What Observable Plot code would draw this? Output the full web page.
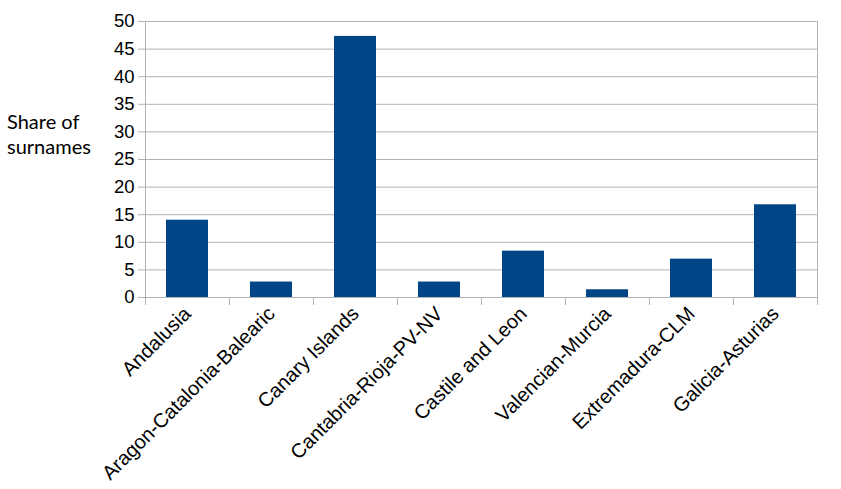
<!DOCTYPE html>
<html>
<head>
<meta charset="utf-8">
<script src="https://cdn.jsdelivr.net/npm/d3@7"></script>
<script src="https://cdn.jsdelivr.net/npm/@observablehq/plot@0.6"></script>
<style>
  html, body { margin: 0; padding: 0; background: #fff; }
  #wrap { position: relative; width: 841px; height: 489px; overflow: hidden; background: #fff; }
  #wrap svg { position: absolute; left: 0; top: 0; }
  #ylabel { position: absolute; z-index: 2; left: 7px; top: 109px; font-family: Lato, "Open Sans", sans-serif; font-size: 20px; line-height: 25px; color: #000; }
</style>
</head>
<body>
<div id="wrap">
  <div id="ylabel">Share of<br>surnames</div>
</div>
<script>
const categories = ["Andalusia", "Aragon-Catalonia-Balearic", "Canary Islands", "Cantabria-Rioja-PV-NV", "Castile and Leon", "Valencian-Murcia", "Extremadura-CLM", "Galicia-Asturias"];
const shares = [14.0, 2.8, 47.3, 2.8, 8.4, 1.4, 6.95, 16.8];
const yTicks = [0, 5, 10, 15, 20, 25, 30, 35, 40, 45, 50];

const data = categories.map((c, i) => ({category: c, index: i, share: shares[i]}));
const boundaries = d3.range(categories.length + 1);
const centers = categories.map((c, i) => i + 0.5);
const grey = "#b3b3b3";

const chart = Plot.plot({
  width: 841,
  height: 489,
  marginLeft: 145,
  marginRight: 24,
  marginTop: 21,
  marginBottom: 192,
  style: {fontFamily: "'Liberation Sans', Arial, sans-serif", color: "#000", background: "transparent"},
  x: {type: "linear", domain: [0, categories.length]},
  y: {domain: [0, 50]},
  marks: [
    Plot.gridY(yTicks.filter(d => d > 0), {stroke: grey, strokeOpacity: 1}),
    Plot.rectY(data, {x1: d => d.index + 0.25, x2: d => d.index + 0.75, y: "share", fill: "#004586"}),
    Plot.ruleX([0, categories.length], {stroke: grey}),
    Plot.ruleY([0], {stroke: grey}),
    Plot.axisY({ticks: yTicks, tickSize: 7, tickPadding: 4, stroke: grey, fill: "#000", fontSize: 18.5, label: null}),
    Plot.axisX({ticks: boundaries, tickSize: 8, tickFormat: () => "", stroke: grey, label: null}),
    Plot.axisX({ticks: centers, tickSize: 0, tickPadding: 13, tickRotate: -45, tickFormat: d => categories[Math.round(d - 0.5)], fill: "#000", fontSize: 20, label: null})
  ]
});
document.getElementById("wrap").insertBefore(chart, document.getElementById("ylabel"));
</script>
</body>
</html>
